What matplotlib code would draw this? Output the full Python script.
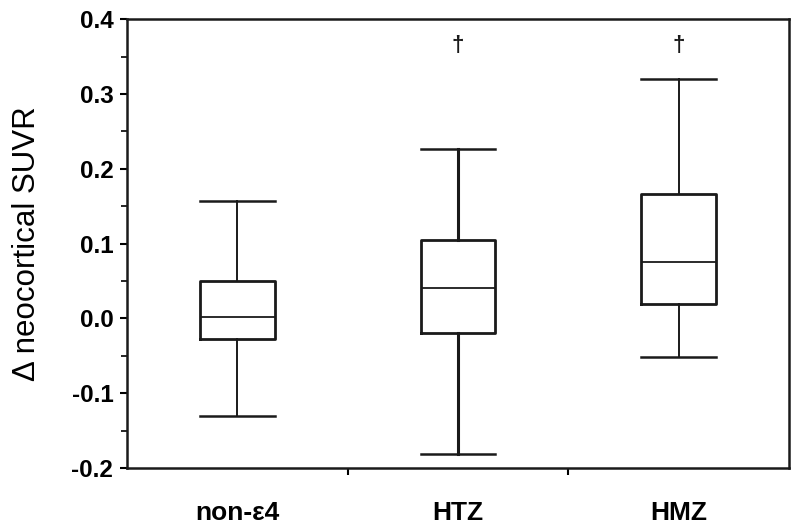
import matplotlib
matplotlib.use("Agg")
import matplotlib.pyplot as plt
from matplotlib.ticker import MultipleLocator, FixedLocator, NullFormatter

# group summary values
groups = ["non-\u03b54", "HTZ", "HMZ"]
whislo = [-0.130, -0.181, -0.051]
q1 = [-0.028, -0.019, 0.019]
med = [0.002, 0.041, 0.075]
q3 = [0.050, 0.105, 0.167]
whishi = [0.157, 0.227, 0.320]
marked = [False, True, True]  # dagger above box
dagger_y = 0.365

plt.rcParams['font.family'] = ['Liberation Sans', 'DejaVu Sans']

fig = plt.figure(figsize=(8, 5.32), dpi=100)
ax = fig.add_axes([0.159, 0.120, 0.827, 0.844])

stats = []
for i, g in enumerate(groups):
    stats.append(dict(label=g, whislo=whislo[i], q1=q1[i], med=med[i],
                      q3=q3[i], whishi=whishi[i], fliers=[]))

pos = [1, 2, 3]
for i, s in enumerate(stats):
    wlw = 2.2 if i == 1 else 1.4
    ax.bxp([s], positions=[pos[i]], widths=0.34, showfliers=False,
           boxprops=dict(color="#1a1a1a", linewidth=2.0),
           whiskerprops=dict(color="#1a1a1a", linewidth=wlw),
           capprops=dict(color="#1a1a1a", linewidth=1.8),
           medianprops=dict(color="#1a1a1a", linewidth=1.3),
           capwidths=0.34)

for i, m in enumerate(marked):
    if m:
        ax.text(pos[i], dagger_y, "\u2020", ha="center", va="center",
                fontsize=16, fontweight="bold", color="#1a1a1a")

ax.set_xlim(0.5, 3.5)
ax.set_ylim(-0.2, 0.4)

ax.yaxis.set_major_locator(MultipleLocator(0.1))
ax.yaxis.set_minor_locator(MultipleLocator(0.05))
ax.set_yticklabels([f"{v:.1f}" for v in ax.get_yticks()])
ax.tick_params(axis="y", which="major", direction="out", length=5, width=1.5,
               labelsize=17.5, pad=5)
ax.tick_params(axis="y", which="minor", direction="out", length=4, width=1.2)
for lbl in ax.get_yticklabels():
    lbl.set_fontweight("bold")

# category labels at box centres, small ticks between groups
ax.xaxis.set_major_locator(FixedLocator([1.5, 2.5]))
ax.xaxis.set_major_formatter(NullFormatter())
ax.set_xticks(pos, groups, minor=True)
ax.tick_params(axis="x", which="major", direction="out", length=5, width=1.5)
ax.tick_params(axis="x", which="minor", length=0, labelsize=19, pad=24)
for lbl in ax.get_xticklabels(minor=True):
    lbl.set_fontweight("bold")

ax.set_ylabel("\u0394 neocortical SUVR", fontsize=22.5, labelpad=21)

for sp in ax.spines.values():
    sp.set_linewidth(1.8)
    sp.set_color("#1a1a1a")

fig.savefig("out.png", dpi=100)
